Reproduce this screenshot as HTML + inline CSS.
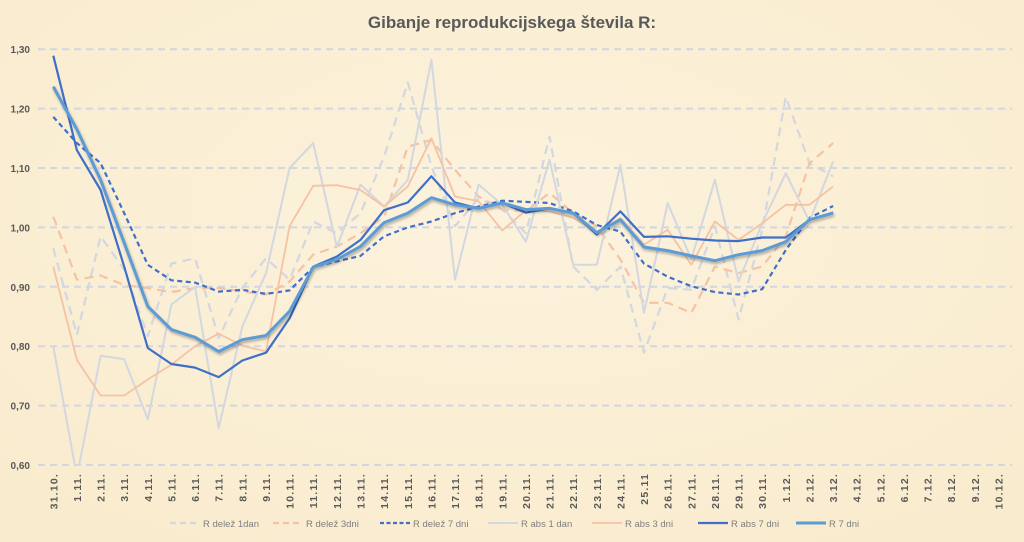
<!DOCTYPE html>
<html><head><meta charset="utf-8"><style>
body{margin:0;background:#fbefd6;}
svg{display:block;font-family:"Liberation Sans",sans-serif;}
</style></head><body>
<svg id="chart" width="1024" height="542" viewBox="0 0 1024 542">
<defs>
<radialGradient id="bg" cx="50%" cy="40%" r="75%"><stop offset="0" stop-color="#fcf2dc"/><stop offset="1" stop-color="#f9ebcd"/></radialGradient>
<clipPath id="plotclip"><rect x="35" y="40" width="980" height="426"/></clipPath>
<filter id="sh" x="-5%" y="-5%" width="110%" height="120%"><feDropShadow dx="1" dy="2" stdDeviation="1.2" flood-color="#000" flood-opacity="0.3"/></filter>
</defs>
<rect width="1024" height="542" fill="url(#bg)"/>
<text x="512" y="28" text-anchor="middle" font-size="17" font-weight="bold" fill="#595959">Gibanje reprodukcijskega števila R:</text>
<g id="grid"></g><g id="ylab"></g><g id="xlab"></g>
<g id="series" clip-path="url(#plotclip)"></g>
<g id="legend"></g>
</svg>
<script>
const categories=["31.10.","1.11.","2.11.","3.11.","4.11.","5.11.","6.11.","7.11.","8.11.","9.11.","10.11.","11.11.","12.11.","13.11.","14.11.","15.11.","16.11.","17.11.","18.11.","19.11.","20.11.","21.11.","22.11.","23.11.","24.11.","25.11","26.11.","27.11.","28.11.","29.11.","30.11.","1.12.","2.12.","3.12.","4.12.","5.12.","6.12.","7.12.","8.12.","9.12.","10.12."];
const yTicks=[0.6,0.7,0.8,0.9,1.0,1.1,1.2,1.3];
const seriesNames=["R delež 1dan","R delež 3dni","R delež 7 dni","R abs 1 dan","R abs 3 dni","R abs 7 dni","R 7 dni"];
const rDelez1=[0.965,0.819,0.985,0.929,0.817,0.939,0.948,0.814,0.898,0.948,0.912,1.010,0.990,1.024,1.119,1.244,1.103,1.002,1.049,1.030,0.990,1.153,0.934,0.895,0.934,0.789,0.898,0.895,1.002,0.845,0.996,1.220,1.108,1.086];
const rDelez3=[1.018,0.912,0.919,0.903,0.898,0.891,0.898,0.898,0.892,0.887,0.909,0.954,0.968,0.990,1.018,1.136,1.147,1.097,1.052,1.030,1.027,1.058,1.024,1.002,0.946,0.873,0.873,0.856,0.934,0.923,0.934,0.985,1.108,1.142];
const rDelez7=[1.186,1.142,1.108,1.024,0.937,0.911,0.907,0.892,0.895,0.888,0.894,0.933,0.943,0.952,0.985,1.000,1.010,1.024,1.035,1.045,1.043,1.041,1.027,1.004,0.993,0.939,0.917,0.901,0.891,0.887,0.896,0.962,1.016,1.036];
const rAbs1=[0.800,0.580,0.784,0.778,0.677,0.870,0.900,0.662,0.833,0.923,1.100,1.142,0.967,1.072,1.035,1.080,1.282,0.912,1.072,1.038,0.976,1.114,0.937,0.937,1.105,0.856,1.041,0.946,1.080,0.909,1.007,1.091,1.010,1.111];
const rAbs3=[0.934,0.777,0.717,0.717,0.744,0.769,0.800,0.821,0.801,0.791,1.002,1.070,1.071,1.063,1.035,1.069,1.150,1.052,1.044,0.995,1.029,1.027,1.016,0.993,1.016,0.971,0.996,0.937,1.010,0.979,1.007,1.038,1.038,1.069];
const rAbs7=[1.289,1.130,1.063,0.934,0.797,0.770,0.764,0.748,0.776,0.789,0.847,0.934,0.951,0.979,1.029,1.042,1.086,1.042,1.032,1.041,1.025,1.032,1.024,0.988,1.027,0.984,0.985,0.981,0.978,0.977,0.983,0.983,1.013,1.025];
const r7=[1.237,1.165,1.080,0.974,0.867,0.828,0.815,0.791,0.811,0.818,0.859,0.933,0.946,0.968,1.008,1.024,1.050,1.038,1.032,1.041,1.030,1.032,1.024,0.991,1.013,0.967,0.961,0.952,0.944,0.954,0.961,0.976,1.013,1.024];

const NS="http://www.w3.org/2000/svg";
const X0=53.3,DX=23.63;
function xs(i){return X0+DX*i;}
function ys(v){return 465-(v-0.6)*594;}
function mk(t,a,p){const e=document.createElementNS(NS,t);for(const k in a)e.setAttribute(k,a[k]);p.appendChild(e);return e;}
const grid=document.getElementById('grid'),ylab=document.getElementById('ylab'),xlab=document.getElementById('xlab');
yTicks.forEach(v=>{
 const l=mk('line',{x1:38,x2:1012,y1:ys(v),y2:ys(v),stroke:'#d2d6df','stroke-width':2,'stroke-dasharray':'7 5'},grid);
 
 
 const t=mk('text',{x:30,y:ys(v)+4,'text-anchor':'end','font-size':10,'font-weight':'bold',fill:'#595959'},ylab);
 t.textContent=v.toFixed(2).replace('.',',');
 
 
});
categories.forEach((c,i)=>{
 const x=xs(i)+4;
 const t=mk('text',{x:x,y:473,transform:`rotate(-90 ${x} 473)`,'text-anchor':'end','font-size':10.5,'letter-spacing':'1.2','font-weight':'bold',fill:'#595959'},xlab);
 t.textContent=c;
 
 
});
const styles=[
 {d:rDelez1,c:'#d3d7df',w:2.2,da:'9 6'},
 {d:rDelez3,c:'#f5c3a3',w:2.2,da:'9 6'},
 {d:rDelez7,c:'#3f6fc6',w:2.2,da:'5 3.5'},
 {d:rAbs1,c:'#d3d7df',w:2,da:''},
 {d:rAbs3,c:'#f5c3a3',w:1.8,da:''},
 {d:rAbs7,c:'#3f6fc6',w:2.2,da:''},
 {d:r7,c:'#5b9bd5',w:3,da:'',sh:true}
];
const sg=document.getElementById('series');
styles.forEach((s,k)=>{
 const pts=s.d.map((v,i)=>xs(i).toFixed(1)+','+ys(v).toFixed(1)).join(' ');
 const a={points:pts,fill:'none',stroke:s.c,'stroke-width':s.w,'stroke-linejoin':'round'};
 if(s.da)a['stroke-dasharray']=s.da;
 if(s.sh)a.filter='url(#sh)';
 const p=mk('polyline',a,sg);
 
 
});
const lg=document.getElementById('legend');
const lx=[170,273,380,488,592,698,796];
seriesNames.forEach((n,k)=>{
 const s=styles[k];
 const g=mk('g',{},lg);
 
 
 const a={x1:lx[k],x2:lx[k]+30,y1:523,y2:523,stroke:s.c,'stroke-width':s.w};
 if(s.da)a['stroke-dasharray']=k==2?'4 2.5':'6 4';
 mk('line',a,g);
 const t=mk('text',{x:lx[k]+33,y:527,'font-size':9.5,fill:'#7f7f7f'},g);
 t.textContent=n;
});
</script>
</body></html>
